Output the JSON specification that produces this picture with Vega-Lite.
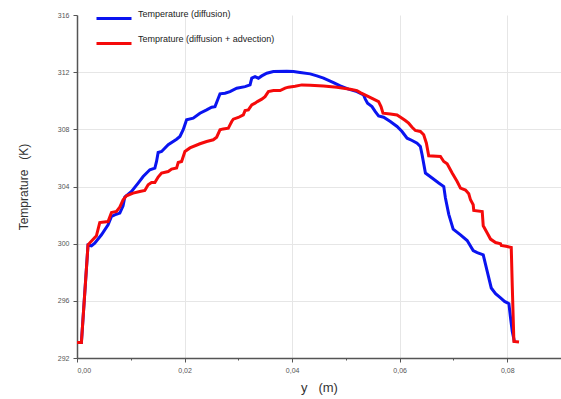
{
  "$schema": "https://vega.github.io/schema/vega-lite/v6.json",
  "width": 484,
  "height": 343,
  "autosize": {"type": "none"},
  "padding": {"left": 77, "top": 15, "right": 0, "bottom": 41},
  "background": "white",
  "config": {
    "font": "Liberation Sans",
    "view": {"stroke": null}
  },
  "datasets": {
    "blue": [
      [0, 293.09], [0.00082, 293.09], [0.00205, 299.90], [0.00268, 299.85], [0.00330, 300.04], [0.00455, 300.62],
      [0.00578, 301.32], [0.00641, 301.90], [0.00702, 302.02], [0.00796, 302.14], [0.00857, 302.65], [0.00889, 303.26],
      [0.01014, 303.65], [0.01137, 304.24], [0.01230, 304.70], [0.01355, 305.17], [0.01448, 305.29], [0.01479, 305.75],
      [0.01509, 306.38], [0.01573, 306.45], [0.01696, 306.92], [0.01852, 307.31], [0.01914, 307.50], [0.01975, 307.97],
      [0.02038, 308.67], [0.02161, 308.78], [0.02286, 309.13], [0.02411, 309.36], [0.02504, 309.55], [0.02566, 309.59],
      [0.02627, 310.18], [0.02659, 310.48], [0.02752, 310.53], [0.02845, 310.64], [0.02970, 310.88], [0.03125, 310.99],
      [0.03218, 311.11], [0.03250, 311.58], [0.03311, 311.69], [0.03373, 311.58], [0.03436, 311.74], [0.03529, 311.93],
      [0.03652, 312.04], [0.03902, 312.07], [0.04025, 312.04], [0.04149, 311.97], [0.04336, 311.88], [0.04461, 311.74],
      [0.04584, 311.58], [0.04770, 311.27], [0.04895, 311.04], [0.05049, 310.81], [0.05206, 310.64], [0.05329, 310.41],
      [0.05361, 310.11], [0.05403, 309.83], [0.05485, 309.59], [0.05547, 309.24], [0.05608, 308.94], [0.05702, 308.85],
      [0.05826, 308.55], [0.05951, 308.20], [0.06044, 307.85], [0.06138, 307.38], [0.06231, 307.22], [0.06324, 307.03],
      [0.06385, 306.80], [0.06417, 306.22], [0.06479, 304.94], [0.06603, 304.59], [0.06726, 304.24], [0.06820, 304.00],
      [0.06851, 303.20], [0.06913, 302.05], [0.06995, 301.02], [0.07131, 300.62], [0.07255, 300.22], [0.07367, 299.52],
      [0.07442, 299.38], [0.07554, 299.22], [0.07628, 298.06], [0.07703, 296.90], [0.07783, 296.50], [0.07876, 296.20],
      [0.07950, 295.96], [0.08031, 295.80], [0.08062, 294.80], [0.08094, 293.86], [0.08137, 293.09]
    ],
    "red": [
      [0, 293.09], [0.00082, 293.09], [0.00205, 299.92], [0.00361, 300.55], [0.00423, 301.48], [0.00578, 301.55],
      [0.00641, 302.18], [0.00734, 302.25], [0.00796, 302.56], [0.00857, 303.07], [0.00920, 303.35], [0.01043, 303.54],
      [0.01168, 303.65], [0.01261, 303.72], [0.01323, 304.12], [0.01386, 304.28], [0.01448, 304.28], [0.01509, 304.66],
      [0.01573, 304.94], [0.01696, 305.05], [0.01759, 305.22], [0.01852, 305.29], [0.01882, 305.68], [0.01945, 305.75],
      [0.02007, 306.45], [0.02100, 306.70], [0.02286, 306.99], [0.02411, 307.15], [0.02534, 307.27], [0.02597, 307.45],
      [0.02659, 307.97], [0.02720, 308.03], [0.02814, 308.08], [0.02845, 308.31], [0.02877, 308.55], [0.02907, 308.71],
      [0.03000, 308.83], [0.03093, 309.01], [0.03125, 309.31], [0.03186, 309.36], [0.03250, 309.71], [0.03311, 309.83],
      [0.03354, 309.94], [0.03436, 310.11], [0.03497, 310.29], [0.03559, 310.64], [0.03652, 310.71], [0.03777, 310.71],
      [0.03870, 310.88], [0.03931, 310.95], [0.04056, 311.02], [0.04181, 311.11], [0.04336, 311.09], [0.04584, 311.04],
      [0.04833, 310.95], [0.05081, 310.81], [0.05206, 310.71], [0.05267, 310.57], [0.05392, 310.34], [0.05515, 310.11],
      [0.05608, 309.94], [0.05653, 309.59], [0.05690, 309.13], [0.05826, 309.08], [0.05951, 309.01], [0.06044, 308.78],
      [0.06105, 308.62], [0.06167, 308.43], [0.06231, 308.15], [0.06292, 307.92], [0.06385, 307.85], [0.06447, 307.62],
      [0.06497, 307.03], [0.06540, 306.15], [0.06758, 306.10], [0.06820, 305.75], [0.06883, 305.59], [0.06976, 304.94],
      [0.07069, 304.35], [0.07131, 303.89], [0.07224, 303.75], [0.07285, 303.49], [0.07317, 303.07], [0.07367, 302.72],
      [0.07378, 302.32], [0.07535, 302.25], [0.07554, 301.25], [0.07628, 300.74], [0.07689, 300.32], [0.07783, 300.08],
      [0.07876, 299.99], [0.07889, 299.87], [0.08001, 299.80], [0.08075, 299.73], [0.08094, 297.01], [0.08124, 293.16],
      [0.08219, 293.12]
    ]
  },
  "layer": [
    {
      "data": {"name": "blue"},
      "transform": [
        {"calculate": "datum[0]", "as": "pos"},
        {"calculate": "datum[1]", "as": "temp"},
        {"calculate": "'Temperature (diffusion)'", "as": "series"}
      ],
      "mark": {"type": "line", "strokeWidth": 3, "interpolate": "linear"},
      "encoding": {
        "x": {"field": "pos", "type": "quantitative"},
        "y": {"field": "temp", "type": "quantitative"},
        "color": {"field": "series", "type": "nominal"}
      }
    },
    {
      "data": {"name": "red"},
      "transform": [
        {"calculate": "datum[0]", "as": "pos"},
        {"calculate": "datum[1]", "as": "temp"},
        {"calculate": "'Temprature (diffusion + advection)'", "as": "series"}
      ],
      "mark": {"type": "line", "strokeWidth": 3, "interpolate": "linear"},
      "encoding": {
        "x": {
          "field": "pos", "type": "quantitative",
          "scale": {"domain": [0, 0.09], "nice": false, "zero": false},
          "axis": {
            "title": "y\u00a0\u00a0\u00a0(m)",
            "titleFontSize": 13, "titleFontWeight": "normal", "titleColor": "#333", "titlePadding": 8,
            "values": [0, 0.01, 0.02, 0.03, 0.04, 0.05, 0.06, 0.07, 0.08, 0.09],
            "labelExpr": "(round(datum.value*100) % 2 == 0) ? replace(format(datum.value, '.2f'), '.', ',') : ''",
            "labelFontSize": 7, "labelColor": "#555", "labelPadding": 4,
            "domainColor": "#555", "domainWidth": 1.5,
            "tickColor": "#555", "tickSize": {"condition": {"test": "round(datum.value*100) % 2 == 0", "value": 4}, "value": 2},
            "grid": true, "gridColor": "#e6e6e6",
            "gridOpacity": {"condition": {"test": "round(datum.value*100) % 2 == 0 && datum.value > 0.001", "value": 1}, "value": 0}
          }
        },
        "y": {
          "field": "temp", "type": "quantitative",
          "scale": {"domain": [292, 316], "nice": false, "zero": false},
          "axis": {
            "title": "Temprature\u00a0\u00a0\u00a0(K)",
            "titleFontSize": 12, "titleFontWeight": "normal", "titleColor": "#333", "titlePadding": 27,
            "values": [292, 293, 294, 295, 296, 297, 298, 299, 300, 301, 302, 303, 304, 305, 306, 307, 308, 309, 310, 311, 312, 313, 314, 315, 316],
            "labelExpr": "(datum.value % 4 == 0) ? format(datum.value, 'd') : ''",
            "labelFontSize": 7, "labelColor": "#555", "labelPadding": 4,
            "domainColor": "#555", "domainWidth": 1.5,
            "tickColor": "#555", "tickSize": {"condition": {"test": "datum.value % 4 == 0", "value": 4}, "value": 2},
            "grid": true, "gridColor": "#e6e6e6",
            "gridOpacity": {"condition": {"test": "datum.value % 4 == 0 && datum.value > 292 && datum.value < 316", "value": 1}, "value": 0}
          }
        },
        "color": {
          "field": "series", "type": "nominal",
          "scale": {
            "domain": ["Temperature (diffusion)", "Temprature (diffusion + advection)"],
            "range": ["#0a14f0", "#f50a0a"]
          },
          "legend": {
            "title": null, "orient": "none", "legendX": 18, "legendY": -15.5,
            "symbolType": "stroke", "symbolSize": 1225, "symbolStrokeWidth": 3,
            "labelFontSize": 9, "labelColor": "#222", "labelBaseline": "bottom",
            "rowPadding": -6, "padding": 0, "labelOffset": 5
          }
        }
      }
    }
  ]
}
